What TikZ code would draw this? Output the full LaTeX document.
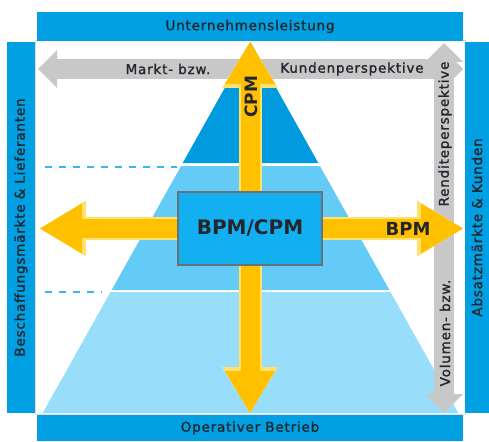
\documentclass[tikz,border=0pt]{standalone}
\usepackage{fontspec}
\setmainfont{DejaVu Sans}
\newfontfamily\lblfont[LetterSpace=6,FakeBold=1.3]{DejaVu Sans}
\usetikzlibrary{arrows.meta, positioning}

\definecolor{barblue}{RGB}{0,160,227}
\definecolor{pyrtop}{RGB}{0,155,222}
\definecolor{pyrmid}{RGB}{100,202,246}
\definecolor{pyrlow}{RGB}{152,222,251}
\definecolor{boxblue}{RGB}{18,176,240}
\definecolor{boxedge}{RGB}{105,112,120}
\definecolor{dashblue}{RGB}{60,182,236}
\definecolor{arrowgrey}{RGB}{200,200,200}
\definecolor{yellowmain}{RGB}{255,192,0}
\definecolor{yellowlight}{RGB}{255,226,110}
\definecolor{txtdark}{RGB}{35,38,45}

\begin{document}
\begin{tikzpicture}[
			x=1pt, y=-1pt,
			bar/.style={fill=barblue, inner sep=0pt, text=txtdark, font=\lblfont\fontsize{13.5}{15}\selectfont},
			gtext/.style={inner sep=0pt, text=txtdark, font=\lblfont\fontsize{13.5}{15}\selectfont},
			btext/.style={inner sep=0pt, text=txtdark, font=\bfseries},
			guide/.style={draw=dashblue, line width=2.5pt, dash pattern=on 7pt off 7pt},
			garrow/.style={draw=arrowgrey, line width=20pt,
				arrows={Triangle[length=19pt,width=38pt,line width=0pt]-Triangle[length=19pt,width=38pt,line width=0pt]}},
			ylight/.style={draw=yellowlight, line width=23pt,
				arrows={Triangle[length=46pt,width=56pt,line width=0pt]-Triangle[length=46pt,width=56pt,line width=0pt]}},
			yarrow/.style={draw=yellowmain, line width=19pt,
				arrows={Triangle[length=42pt,width=50pt,line width=0pt]-Triangle[length=42pt,width=50pt,line width=0pt]}},
			centerbox/.style={fill=boxblue, draw=boxedge, line width=1.5pt, minimum width=144pt, minimum height=73pt, text=txtdark, font=\bfseries\fontsize{20}{24}\selectfont}
			]
			\useasboundingbox (0,0) rectangle (489,441);
			
			% Frame and bars
			\draw[gray!25, line width=1pt] (35,41) rectangle (465,414);
			\node[bar, minimum width=426pt, minimum height=29pt] (perf) at (250,26.5) {Unternehmensleistung};
			\node[bar, minimum width=426pt, minimum height=26pt] (ops) at (250,428) {Operativer Betrieb};
			\node[bar, rotate=90, minimum width=371pt, minimum height=28pt] (supply) at (21,227.5) {Beschaffungsmärkte \& Lieferanten};
			\node[bar, rotate=90, minimum width=371pt, minimum height=24pt] (sales) at (477,227.5) {Absatzmärkte \& Kunden};
			
			% Pyramid
			\fill[pyrtop] (250.5,42) -- (318.3,163) -- (182.7,163) -- cycle;
			\fill[pyrmid] (181.1,166) -- (319.9,166) -- (389.4,290) -- (111.6,290) -- cycle;
			\fill[pyrlow] (110.5,292) -- (390.5,292) -- (458.3,413) -- (42.7,413) -- cycle;
			\draw[guide] (45,167) -- (177,167);
			\draw[guide] (45,292) -- (102,292);
			
			% Grey arrows
			\coordinate (gleft) at (38,69);
			\coordinate (gright) at (463,69);
			\coordinate (gtop) at (444,43);
			\coordinate (gbot) at (444,413);
			\draw[garrow] (gleft) -- (gright);
			\draw[garrow] (gtop) -- (gbot);
			\node[gtext] (market) at (168,69) {Markt- bzw.};
			\node[gtext] (customer) at (352,69) {Kundenperspektive};
			\node[gtext, rotate=90] (yield) at (445,134) {Renditeperspektive};
			\node[gtext, rotate=90] (volume) at (445,333) {Volumen- bzw.};
			
			% Yellow cross
			\coordinate (ytop) at (250,42);
			\coordinate (ybot) at (250,413);
			\coordinate (yleft) at (40,228.5);
			\coordinate (yright) at (463,228.5);
			\draw[ylight] (ytop) -- (ybot);
			\draw[ylight] (yleft) -- (yright);
			\draw[yarrow] (ytop) -- (ybot);
			\draw[yarrow] (yleft) -- (yright);
			\node[btext, rotate=90, font=\bfseries\fontsize{17}{20}\selectfont] (cpm) at (251,97) {CPM};
			\node[btext, font=\bfseries\fontsize{18}{21}\selectfont] (bpm) at (408,229) {BPM};
			
			% Center
			\node[centerbox] (core) at (250,228.5) {BPM/CPM};
			
		\end{tikzpicture}
\end{document}
